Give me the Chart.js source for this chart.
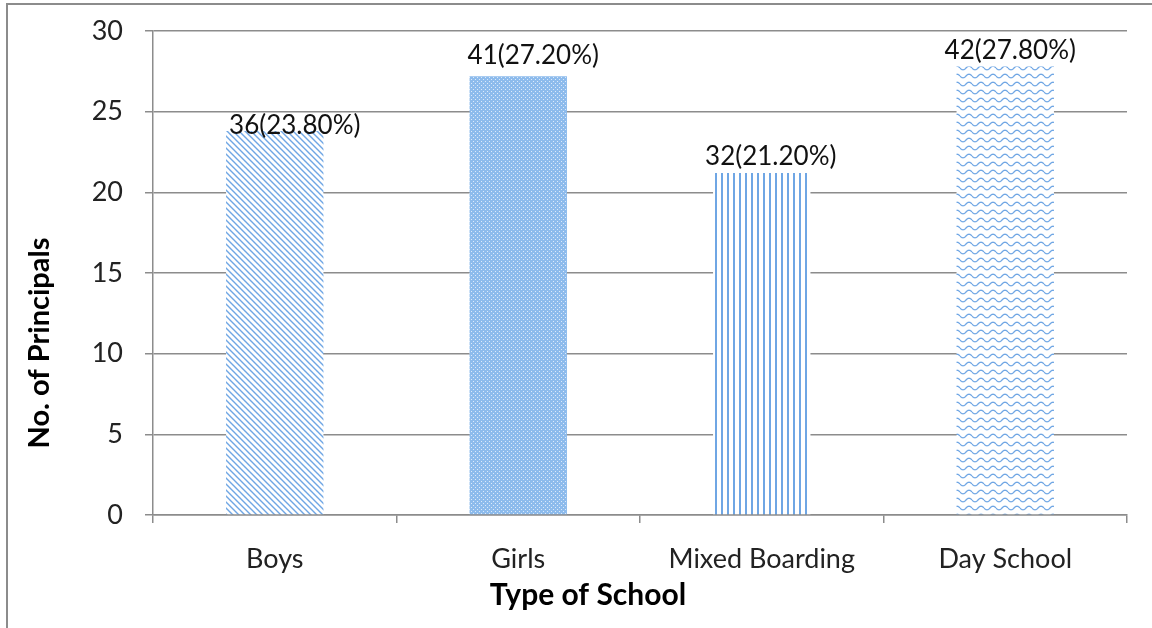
<!DOCTYPE html>
<html>
<head>
<meta charset="utf-8">
<script src="https://cdn.jsdelivr.net/npm/chart.js@4/dist/chart.umd.min.js"></script>
<style>
  html, body { margin: 0; padding: 0; background: #fff; }
  #wrap { width: 1152px; height: 628px; position: relative; }
</style>
</head>
<body>
<div id="wrap"><canvas id="chart" width="1152" height="628"></canvas></div>
<script>
const categories = ['Boys', 'Girls', 'Mixed Boarding', 'Day School']
const percentValues = [23.8, 27.2, 21.2, 27.8]
const principalCounts = [36, 41, 32, 42]
const yMin = 0
const yMax = 30
const yStep = 5

// label nudges (px) so the value labels sit where Excel put them
const labelShiftX = [20, 15, 9, 5]
const labelLift = [5, 21, 16, 16]

const FONT = 'Lato, "Open Sans", sans-serif'
const BLUE = '#6fa6e4'
const GRID = '#8c8c8c'

function makeTile(w, h, draw) {
  const c = document.createElement('canvas')
  c.width = w
  c.height = h
  const g = c.getContext('2d')
  g.fillStyle = '#fff'
  g.fillRect(0, 0, w, h)
  draw(g)
  return g.createPattern(c, 'repeat')
}

// Boys: diagonal hatch
const hatch = makeTile(6, 6, g => {
  g.strokeStyle = BLUE
  g.lineWidth = 1.4
  g.beginPath()
  g.moveTo(-1, -1); g.lineTo(7, 7)
  g.moveTo(-1, 5); g.lineTo(1, 7)
  g.moveTo(5, -1); g.lineTo(7, 1)
  g.stroke()
})

// Girls: fine dotted fill
const dotted = makeTile(4, 4, g => {
  g.fillStyle = '#8dbbec'
  g.fillRect(0, 0, 4, 4)
  g.fillStyle = '#dceafa'
  g.fillRect(1, 1, 1, 1)
  g.fillRect(3, 3, 1, 1)
})

// Mixed Boarding: vertical lines
const vertical = makeTile(6, 6, g => {
  g.fillStyle = BLUE
  g.fillRect(1, 0, 2, 6)
})

// Day School: waves
const wave = makeTile(12, 8, g => {
  g.strokeStyle = BLUE
  g.lineWidth = 1.3
  g.beginPath()
  for (let x = 0; x <= 12; x += 0.5) {
    const y = 4 + 1.8 * Math.sin(x / 12 * Math.PI * 2)
    if (x === 0) g.moveTo(x, y)
    else g.lineTo(x, y)
  }
  g.stroke()
})

const barFills = [hatch, dotted, vertical, wave]

const valueLabels = {
  id: 'valueLabels',
  afterDatasetsDraw(chart) {
    const ctx = chart.ctx
    const meta = chart.getDatasetMeta(0)
    ctx.save()
    ctx.font = '26px ' + FONT
    ctx.fillStyle = '#111'
    ctx.textAlign = 'center'
    ctx.textBaseline = 'middle'
    meta.data.forEach((bar, i) => {
      const txt = principalCounts[i] + '(' + percentValues[i].toFixed(2) + '%)'
      ctx.fillText(txt, bar.x + labelShiftX[i], bar.y - labelLift[i])
    })
    ctx.restore()
  }
}

const frameAndTitles = {
  id: 'frameAndTitles',
  beforeDraw(chart) {
    const ctx = chart.ctx
    ctx.save()
    ctx.strokeStyle = GRID
    ctx.lineWidth = 2
    ctx.beginPath()
    ctx.moveTo(7, 628); ctx.lineTo(7, 4); ctx.lineTo(1152, 4)
    ctx.stroke()
    ctx.restore()
  },
  afterDraw(chart) {
    const ctx = chart.ctx
    ctx.save()
    ctx.fillStyle = '#000'
    ctx.textAlign = 'center'
    ctx.textBaseline = 'middle'
    ctx.font = 'bold 30px ' + FONT
    ctx.fillText('Type of School', 588, 595)
    ctx.font = 'bold 29px ' + FONT
    ctx.translate(40, 343)
    ctx.rotate(-Math.PI / 2)
    ctx.fillText('No. of Principals', 0, 0)
    ctx.restore()
  }
}

new Chart(document.getElementById('chart'), {
  type: 'bar',
  data: {
    labels: categories,
    datasets: [{
      data: percentValues,
      backgroundColor: barFills,
      borderWidth: 0,
      categoryPercentage: 1,
      barPercentage: 0.4
    }]
  },
  options: {
    responsive: false,
    animation: false,
    layout: { padding: { top: 31, right: 25, left: 0, bottom: 0 } },
    plugins: {
      legend: { display: false },
      tooltip: { enabled: false }
    },
    scales: {
      x: {
        afterFit: s => { s.height = 113 },
        grid: { display: true, drawOnChartArea: false, offset: true, color: GRID, tickLength: 8, lineWidth: 1.5 },
        border: { color: GRID, width: 1.5 },
        ticks: { color: '#222', font: { family: FONT, size: 27 }, padding: 20 }
      },
      y: {
        min: yMin,
        max: yMax,
        afterFit: s => { s.width = 153; s.paddingTop = 0; s.paddingBottom = 0 },
        grid: { color: GRID, tickLength: 8, lineWidth: 1.5 },
        border: { color: GRID, width: 1.5 },
        ticks: { stepSize: yStep, color: '#222', font: { family: FONT, size: 27 }, padding: 22 }
      }
    }
  },
  plugins: [valueLabels, frameAndTitles]
})
</script>
</body>
</html>
